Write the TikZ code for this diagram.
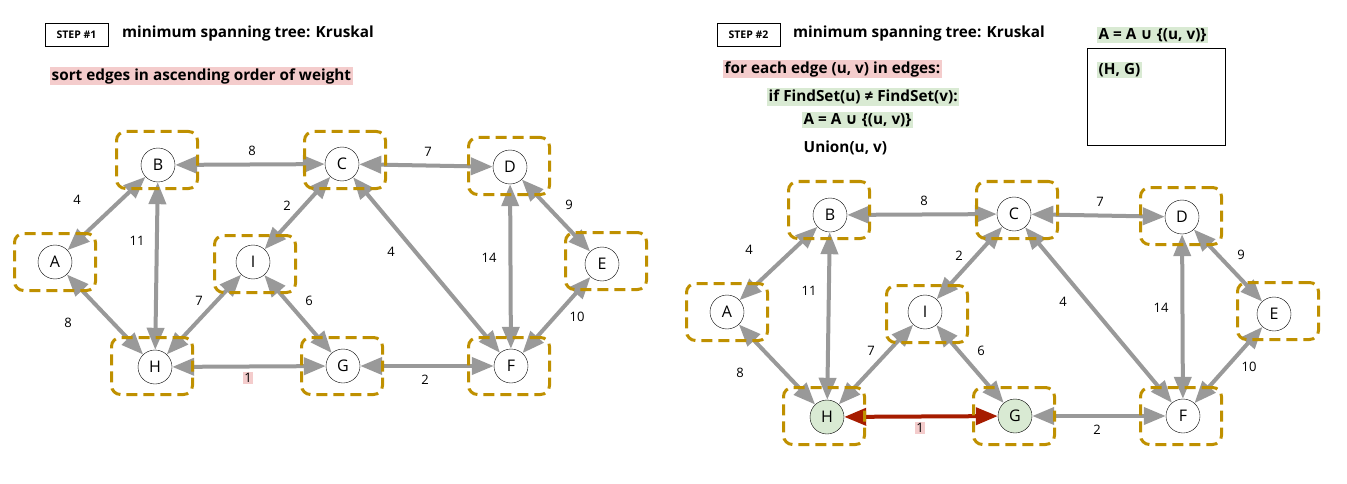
\documentclass[tikz,border=0pt]{standalone}
\usepackage{fontspec}
\setmainfont{Open Sans}
\newfontfamily\symfont{DejaVu Sans}
\usetikzlibrary{arrows.meta}

\definecolor{edgegray}{HTML}{999999}
\definecolor{boxgold}{HTML}{BF9000}
\definecolor{markpink}{HTML}{F4CCCC}
\definecolor{markgreen}{HTML}{D9EAD3}
\definecolor{pickred}{HTML}{A61C00}

\tikzset{
  vertex/.style={circle, draw, fill=white, minimum size=34pt, inner sep=0pt, font=\fontsize{16}{18}\selectfont},
  hgvertex/.style={vertex},
  link/.style={draw=edgegray, line width=4pt, {Triangle[length=22pt,width=17pt]}-{Triangle[length=22pt,width=17pt]}},
  hglink/.style={},
  setbox/.style={draw=boxgold, line width=3pt, dash pattern=on 11pt off 6pt, rounded corners=9pt, minimum width=81pt, minimum height=57pt},
  weight/.style={font=\fontsize{13}{15}\selectfont, inner sep=1pt},
  stepbox/.style={draw, line width=0.8pt, minimum width=63pt, minimum height=23pt, inner sep=0pt, font=\fontsize{10.5}{12}\bfseries},
  title/.style={anchor=west, inner sep=0pt, font=\fontsize{15.3}{18}\bfseries},
  code/.style={anchor=west, inner sep=1.5pt, font=\fontsize{15.3}{18}\bfseries},
  pinkmark/.style={code, fill=markpink},
  greenmark/.style={code, fill=markgreen}
}

% one copy of the graph
\newcommand{\kgraph}{%
  % vertices
  \foreach \n/\x/\y/\s in {A/55/262/vertex, B/158/165/vertex, C/342/164/vertex, D/510/167/vertex,
      E/602/264/vertex, F/511/366/vertex, G/343/366/hgvertex, H/155/367/hgvertex, I/253/262/vertex}
  {
    \node[\s] (\n) at (\x,\y) {\n};
  }
  % edges and weights
  \foreach \u/\v/\w/\lx/\ly in {A/B/4/77/200, A/H/8/68/323, B/C/8/252/151, B/H/11/137/241,
      C/D/7/428/152, C/I/2/287/206, C/F/4/391/252, D/E/9/569/205, D/F/14/489/258,
      E/F/10/577/317, G/F/2/425/380, H/I/7/199/301, I/G/6/309/301}
  {
    \draw[link] (\u) -- (\v);
    \node[weight] (w\u\v) at (\lx,\ly) {\w};
  }
  \draw[link, hglink] (H) -- (G);
  \node[weight, fill=markpink] (wHG) at (248,378) {1};
  % dashed sets
  \foreach \n/\dx/\dy in {A/0/0, B/-1/-5, C/3/-4, D/-1/-1, E/4/-3, F/-2/0, G/-1/0, H/-3/-1, I/2/2}
  {
    \node[setbox] (box\n) at ([shift={(\dx,\dy)}]\n) {};
  }
}

\begin{document}
\begin{tikzpicture}[x=1pt, y=-1pt]
  \useasboundingbox (0,0) rectangle (1347,484);

  % Step 1
  \node[stepbox] (step1) at (76.5,34.5) {STEP \#1};
  \node[title] (title1) at (122,34) {minimum spanning tree: Kruskal};
  \node[pinkmark] (sort) at (50,76) {sort edges in ascending order of weight};
  \begin{scope}[name prefix=L]
    \kgraph
  \end{scope}

  % Step 2
  \node[stepbox] (step2) at (748.5,34.5) {STEP \#2};
  \node[title] (title2) at (793,34) {minimum spanning tree: Kruskal};
  \node[pinkmark] (loop) at (723,69) {for each edge (u, v) in edges:};
  \node[greenmark] (test) at (767,97) {if FindSet(u) ≠ FindSet(v):};
  \node[greenmark] (add) at (802,120) {A = A {\symfont ∪} \{(u, v)\}};
  \node[code] (union) at (802,148) {Union(u, v)};
  \node[greenmark] (sethead) at (1097,35) {A = A {\symfont ∪} \{(u, v)\}};
  \node[draw, line width=0.8pt, anchor=north west, minimum width=138pt, minimum height=97pt] (setA) at (1087,48) {};
  \node[greenmark] (pick) at (1097,70) {(H, G)};
  \begin{scope}[shift={(672,50)}, name prefix=R,
      hgvertex/.style={vertex, fill=markgreen}, hglink/.style={draw=pickred}]
    \kgraph
  \end{scope}
\end{tikzpicture}
\end{document}
